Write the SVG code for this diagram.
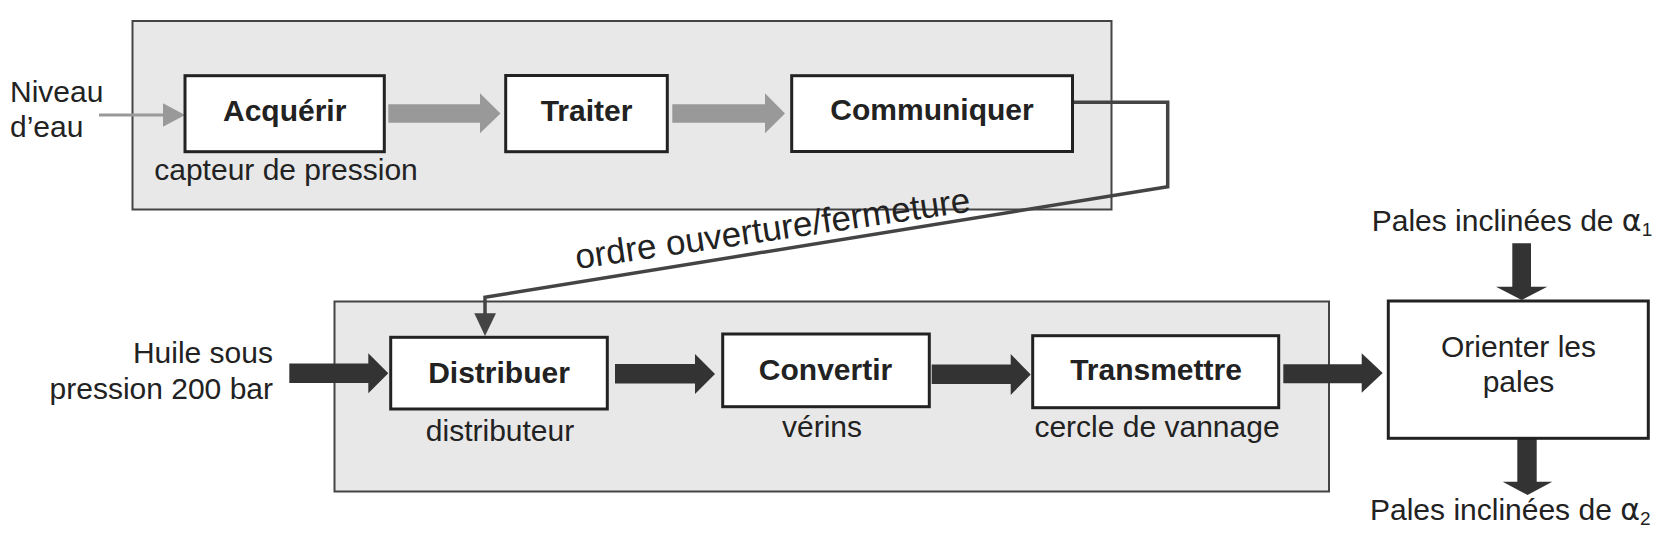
<svg xmlns="http://www.w3.org/2000/svg" width="1665" height="539" viewBox="0 0 1665 539">
<style>
  .grp{fill:#e8e8e8;stroke:#444;stroke-width:2}
  .box{fill:#fff;stroke:#222;stroke-width:3}
  .t{font-family:"Liberation Sans",Arial,sans-serif;font-size:30px;fill:#222}
  .b{font-weight:bold;text-anchor:middle}
  .m{text-anchor:middle}
  .e{text-anchor:end}
  .grey{fill:#999}
  .dark{fill:#333}
  .wire{fill:none;stroke:#444;stroke-width:3.5;stroke-linejoin:miter}
  .al{font-family:"DejaVu Sans",sans-serif}
</style>
<rect width="1665" height="539" fill="#fff"/>

<g id="group-top">
  <rect class="grp" x="132.5" y="21" width="979" height="188.5"/>
</g>
<g id="group-bottom">
  <rect class="grp" x="334.5" y="301.5" width="994.5" height="190" fill="#e6e6e6"/>
</g>

<g id="connectors">
  <line x1="99" y1="115" x2="165" y2="115" stroke="#999" stroke-width="3"/>
  <polygon class="grey" points="163,103.3 185,115 163,126.7"/>
  <polygon class="grey" points="388.3,104.3 480,104.3 480,93.3 500.5,113.5 480,133.3 480,122.7 388.3,122.7"/>
  <polygon class="grey" points="672.3,104.3 765,104.3 765,93.3 785,113.5 765,133.3 765,122.7 672.3,122.7"/>
  <polyline class="wire" points="1072.5,102.3 1167.7,102.3 1167.7,186.7 485,297.3 485,315"/>
  <polygon fill="#444" points="474.3,313.3 496,313.3 485,336"/>
  <polygon class="dark" points="289.3,363.5 368.3,363.5 368.3,353.3 388.3,373.3 368.3,393.3 368.3,383 289.3,383"/>
  <polygon class="dark" points="615,364 695,364 695,354 715,374 695,394 695,383.5 615,383.5"/>
  <polygon class="dark" points="931.7,364.5 1010.7,364.5 1010.7,354 1030.7,374.5 1010.7,395 1010.7,384 931.7,384"/>
  <polygon class="dark" points="1283.3,364.3 1361.7,364.3 1361.7,353.3 1382.7,373 1361.7,392.7 1361.7,383.3 1283.3,383.3"/>
  <polygon class="dark" points="1512.3,243.3 1531,243.3 1531,286.7 1547.3,286.7 1521.7,300 1496,286.7 1512.3,286.7"/>
  <polygon class="dark" points="1517.3,438 1536.7,438 1536.7,481.7 1552.3,481.7 1527.5,495 1502.7,481.7 1517.3,481.7"/>
</g>

<g id="input-niveau">
  <text class="t" x="10" y="101.7">Niveau</text>
  <text class="t" x="10" y="137.3">d’eau</text>
</g>

<g id="node-acquerir">
  <rect class="box" x="185" y="75.7" width="199.3" height="76"/>
  <text class="t b" x="284.7" y="121">Acquérir</text>
  <text class="t m" x="286" y="180">capteur de pression</text>
</g>

<g id="node-traiter">
  <rect class="box" x="505.7" y="75.5" width="161.6" height="76.2"/>
  <text class="t b" x="586.5" y="120.7">Traiter</text>
</g>

<g id="node-communiquer">
  <rect class="box" x="791.7" y="75.7" width="280.8" height="75.8"/>
  <text class="t b" x="932" y="120">Communiquer</text>
</g>

<g id="label-ordre">
  <text class="t" style="font-size:35px" transform="translate(577,269) rotate(-8.3)">ordre ouverture/fermeture</text>
</g>

<g id="input-huile">
  <text class="t e" x="273" y="363.3">Huile sous</text>
  <text class="t e" x="273" y="399">pression 200 bar</text>
</g>

<g id="node-distribuer">
  <rect class="box" x="390.7" y="337.3" width="216.6" height="71.7"/>
  <text class="t b" x="499" y="382.7">Distribuer</text>
  <text class="t m" x="500" y="440.7">distributeur</text>
</g>

<g id="node-convertir">
  <rect class="box" x="722.7" y="334" width="206.6" height="72.7"/>
  <text class="t b" x="825.5" y="380">Convertir</text>
  <text class="t m" x="822" y="436.7">vérins</text>
</g>

<g id="node-transmettre">
  <rect class="box" x="1032.7" y="335.7" width="246" height="72"/>
  <text class="t b" x="1156" y="380">Transmettre</text>
  <text class="t m" x="1157" y="436.7">cercle de vannage</text>
</g>

<g id="node-orienter">
  <rect class="box" x="1388.3" y="301" width="260" height="137.3"/>
  <text class="t m" x="1518.5" y="357.3">Orienter les</text>
  <text class="t m" x="1518.5" y="391.7">pales</text>
</g>

<g id="label-alpha1">
  <text class="t" x="1371.7" y="231">Pales inclinées de <tspan class="al">α</tspan><tspan font-size="19" dy="5">1</tspan></text>
</g>
<g id="label-alpha2">
  <text class="t" x="1370" y="520">Pales inclinées de <tspan class="al">α</tspan><tspan font-size="19" dy="5">2</tspan></text>
</g>
</svg>
